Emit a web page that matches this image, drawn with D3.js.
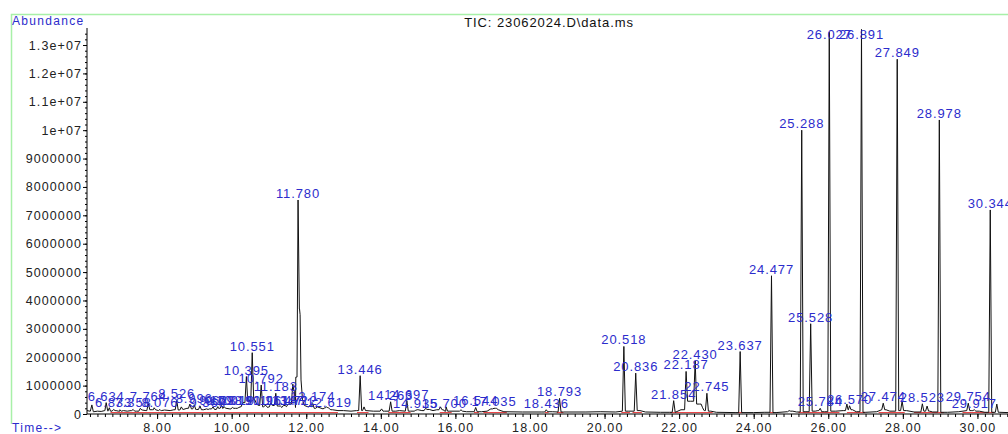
<!DOCTYPE html>
<html>
<head>
<meta charset="utf-8">
<script src="https://cdn.jsdelivr.net/npm/d3@7"></script>
<style>
  body { margin: 0; background: #fff; }
  text { font-family: Arial, "Liberation Sans", sans-serif; }
</style>
</head>
<body>
<div id="chart"></div>
<script>
var svgWidth = 1008;
var svgHeight = 434;

// abundance values in millions, times in minutes

// labelled peaks
var peakTimes = [6.634, 6.833, 7.358, 7.764, 8.076, 8.526, 8.996, 9.369, 9.628, 9.798,
  10.019, 10.191, 10.395, 10.551, 10.792, 10.961, 11.183, 11.347, 11.472, 11.712,
  11.780, 12.174, 12.619, 13.446, 14.263, 14.697, 14.935, 15.700, 16.544, 17.035,
  18.436, 18.793, 20.518, 20.836, 21.854, 22.187, 22.430, 22.745, 23.637, 24.477,
  25.288, 25.528, 25.784, 26.027, 26.570, 26.891, 27.474, 27.849, 28.523, 28.978,
  29.754, 29.917, 30.344];
var peakHeights = [0.40, 0.16, 0.16, 0.37, 0.16, 0.48, 0.33, 0.16, 0.26, 0.26,
  0.23, 0.23, 1.32, 2.16, 1.02, 0.23, 0.73, 0.23, 0.26, 0.23,
  7.54, 0.37, 0.19, 1.35, 0.43, 0.47, 0.13, 0.13, 0.23, 0.20,
  0.15, 0.55, 2.38, 1.44, 0.47, 1.50, 1.87, 0.73, 2.20, 4.87,
  10.0, 3.18, 0.20, 13.45, 0.29, 13.55, 0.38, 12.5, 0.36, 10.36,
  0.38, 0.15, 7.19];
var peakLabels = ["6.634", "6.833", "7.358", "7.764", "8.076", "8.526", "8.996", "9.369", "9.628", "9.798",
  "10.019", "10.191", "10.395", "10.551", "10.792", "10.961", "11.183", "11.347", "11.472", "11.712",
  "11.780", "12.174", "12.619", "13.446", "14.263", "14.697", "14.935", "15.700", "16.544", "17.035",
  "18.436", "18.793", "20.518", "20.836", "21.854", "22.187", "22.430", "22.745", "23.637", "24.477",
  "25.288", "25.528", "25.784", "26.027", "26.570", "26.891", "27.474", "27.849", "28.523", "28.978",
  "29.754", "29.917", "30.344"];

// small peaks without a label
var minorTimes = [6.25, 6.72, 7.00, 7.55, 7.92, 8.65, 8.88, 9.15, 9.50, 9.73,
  10.47, 11.05, 11.64, 12.10, 12.55, 13.55, 14.02, 15.20, 15.60, 15.75,
  16.15, 22.63, 24.95, 26.50, 27.98, 28.65, 30.52];
var minorHeights = [0.32, 0.22, 0.15, 0.20, 0.22, 0.25, 0.35, 0.28, 0.25, 0.30,
  0.50, 0.40, 1.05, 0.30, 0.25, 0.25, 0.18, 0.20, 0.25, 0.25,
  0.15, 0.22, 0.12, 0.35, 0.45, 0.28, 0.35];

// baseline / broad features of the trace [time, abundance]
var baseline = [[6.12, 0.12], [6.2, 0.10], [6.3, 0.08], [6.4, 0.10], [6.5, 0.09], [6.6, 0.12],
  [6.75, 0.10], [6.9, 0.12], [7.0, 0.10], [7.1, 0.12], [7.2, 0.10], [7.3, 0.12], [7.45, 0.10],
  [7.6, 0.14], [7.7, 0.12], [7.9, 0.15], [8.1, 0.12], [8.2, 0.14], [8.35, 0.12], [8.45, 0.15],
  [8.6, 0.14], [8.7, 0.16], [8.8, 0.20], [8.95, 0.18], [9.05, 0.16], [9.25, 0.15],
  [9.4, 0.18], [9.55, 0.16], [9.65, 0.20], [9.85, 0.20], [9.95, 0.18], [10.1, 0.20], [10.25, 0.25],
  [10.3, 0.40], [10.45, 0.45], [10.5, 0.40], [10.62, 0.50], [10.67, 0.35], [10.72, 0.30],
  [10.85, 0.25], [10.9, 0.30], [11.0, 0.25], [11.1, 0.30], [11.25, 0.28], [11.4, 0.30],
  [11.55, 0.35], [11.68, 0.80], [11.72, 1.30], [11.815, 3.70], [11.835, 3.50], [11.86, 1.20],
  [11.9, 0.50], [11.95, 0.30], [12.05, 0.25], [12.25, 0.20], [12.3, 0.25], [12.45, 0.18],
  [12.5, 0.22], [12.7, 0.15], [12.85, 0.12], [13.0, 0.12], [13.2, 0.10], [13.35, 0.12],
  [13.6, 0.12], [13.8, 0.10], [14.1, 0.10], [14.4, 0.10], [14.5, 0.12], [14.8, 0.10],
  [15.0, 0.15], [15.1, 0.12], [15.3, 0.16], [15.4, 0.12], [15.5, 0.15], [15.85, 0.10],
  [16.1, 0.10], [16.3, 0.08], [16.7, 0.08], [16.85, 0.10], [16.95, 0.18], [17.1, 0.20],
  [17.15, 0.15], [17.3, 0.08], [17.8, 0.07], [18.3, 0.07], [18.6, 0.08], [18.9, 0.07],
  [19.5, 0.07], [19.9, 0.08], [20.3, 0.07], [20.65, 0.10], [20.95, 0.12], [21.1, 0.07],
  [21.5, 0.06], [21.75, 0.06], [22.05, 0.15], [22.3, 0.45], [22.55, 0.35], [22.68, 0.12],
  [22.85, 0.10], [23.0, 0.06], [23.5, 0.05], [24.0, 0.05], [24.3, 0.06], [24.6, 0.05],
  [24.9, 0.08], [25.05, 0.10], [25.15, 0.07], [25.4, 0.08], [25.65, 0.10], [25.72, 0.12],
  [25.9, 0.08], [26.2, 0.10], [26.4, 0.12], [26.65, 0.15], [26.75, 0.08], [27.0, 0.06],
  [27.3, 0.08], [27.55, 0.15], [27.65, 0.10], [28.1, 0.12], [28.3, 0.07], [28.72, 0.10],
  [28.8, 0.07], [29.2, 0.06], [29.5, 0.08], [29.85, 0.12], [30.05, 0.10], [30.2, 0.06],
  [30.6, 0.06], [30.82, 0.05]];

// red integration baselines [start, end]
var baseSegs = [[6.75, 12.85], [13.36, 13.67], [14.2, 14.8], [15.58, 15.9], [16.5, 16.63],
  [16.75, 17.38], [18.4, 18.5], [18.72, 18.9], [20.45, 20.68], [20.75, 21.0], [21.75, 22.9],
  [23.58, 23.7], [24.42, 24.55], [25.2, 26.3], [26.5, 27.0], [27.35, 28.05], [28.3, 29.1],
  [29.6, 30.45]];

var yTicks = [0, 1, 2, 3, 4, 5, 6, 7, 8, 9, 10, 11, 12, 13];
var yTickLabels = ["0", "1000000", "2000000", "3000000", "4000000", "5000000", "6000000",
  "7000000", "8000000", "9000000", "1e+07", "1.1e+07", "1.2e+07", "1.3e+07"];
var xTicks = [8, 10, 12, 14, 16, 18, 20, 22, 24, 26, 28, 30];

var plot = { left: 87, right: 1008, top: 28, bottom: 414 };
var blue = "#2c2ccc";

var svg = d3.select("#chart")
  .append("svg")
  .attr("width", svgWidth)
  .attr("height", svgHeight);

var x = d3.scaleLinear().domain([6.12, 30.82]).range([plot.left, plot.right]);
var y = d3.scaleLinear().domain([0, 13.6]).range([plot.bottom, plot.top]);

// green frame
svg.append("path")
  .attr("d", `M11.5,424 V14.5 H${svgWidth}`)
  .attr("fill", "none")
  .attr("stroke", "#a8f0a8")
  .attr("stroke-width", 1.5);

svg.append("defs").append("clipPath").attr("id", "clip")
  .append("rect")
  .attr("x", plot.left).attr("y", plot.top - 4)
  .attr("width", plot.right - plot.left).attr("height", plot.bottom - plot.top + 4);

// build trace: baseline points plus a narrow spike for every peak
var allPeaks = peakTimes.map((t, i) => [t, peakHeights[i]])
  .concat(minorTimes.map((t, i) => [t, minorHeights[i]]));
var bis = d3.bisector(d => d[0]).left;
function footAt(t) {
  var i = Math.min(Math.max(bis(baseline, t), 1), baseline.length - 1);
  var a = baseline[i - 1], b = baseline[i];
  return (t - a[0] < b[0] - t) ? a[1] : b[1];
}
var hw = 0.04;
var trace = baseline.slice();
allPeaks.forEach(function (p) {
  trace.push([p[0] - hw, footAt(p[0] - hw)]);
  trace.push([p[0], p[1]]);
  trace.push([p[0] + hw, footAt(p[0] + hw)]);
});
trace.sort((a, b) => a[0] - b[0]);

var line = d3.line().x(d => x(d[0])).y(d => y(d[1]));

var g = svg.append("g").attr("clip-path", "url(#clip)");

g.selectAll("line.base")
  .data(baseSegs)
  .enter()
  .append("line")
  .attr("class", "base")
  .attr("x1", d => x(d[0]))
  .attr("x2", d => x(d[1]))
  .attr("y1", y(0.05))
  .attr("y2", y(0.05))
  .attr("stroke", "#e8383a")
  .attr("stroke-width", 1);

g.append("path")
  .datum(trace)
  .attr("d", line)
  .attr("fill", "none")
  .attr("stroke", "#111")
  .attr("stroke-width", 1);

// axes
var yMinor = d3.axisLeft(y).tickValues(d3.range(0, 13.6, 0.2)).tickSize(2).tickFormat("");
svg.append("g").attr("transform", `translate(${plot.left},0)`).call(yMinor)
  .call(a => a.select(".domain").remove());

var yAxis = d3.axisLeft(y).tickValues(yTicks).tickFormat((d, i) => yTickLabels[i]).tickSize(4);
svg.append("g")
  .attr("transform", `translate(${plot.left},0)`)
  .call(yAxis)
  .call(a => a.select(".domain").attr("d", `M0,${plot.top}V${plot.bottom}`))
  .call(a => a.selectAll("text")
    .attr("x", -5)
    .attr("font-size", 12.5)
    .attr("letter-spacing", 1.1)
    .attr("fill", "#222"));

var xMinor = d3.axisBottom(x).tickValues(d3.range(6.2, 30.81, 0.2)).tickSize(3).tickFormat("");
svg.append("g").attr("transform", `translate(0,${plot.bottom})`).call(xMinor)
  .call(a => a.select(".domain").remove());

var xAxis = d3.axisBottom(x).tickValues(xTicks).tickFormat(d3.format(".2f")).tickSize(5);
svg.append("g")
  .attr("transform", `translate(0,${plot.bottom})`)
  .call(xAxis)
  .call(a => a.select(".domain").attr("d", `M${plot.left},0H${plot.right}`))
  .call(a => a.selectAll("text")
    .attr("y", 17.5)
    .attr("dy", 0)
    .attr("font-size", 12.5)
    .attr("letter-spacing", 1.1)
    .attr("fill", "#222"));

// peak labels
svg.selectAll("text.peak")
  .data(peakTimes)
  .enter()
  .append("text")
  .attr("class", "peak")
  .attr("x", d => x(d))
  .attr("y", (d, i) => Math.max(y(peakHeights[i]) - 2, 39))
  .attr("text-anchor", "middle")
  .attr("font-size", 13)
  .attr("letter-spacing", 0.9)
  .attr("fill", blue)
  .text((d, i) => peakLabels[i]);

// titles
svg.append("text")
  .attr("x", 12).attr("y", 25)
  .attr("font-size", 12)
  .attr("letter-spacing", 1.3)
  .attr("fill", blue)
  .text("Abundance");

svg.append("text")
  .attr("x", 12).attr("y", 431.5)
  .attr("font-size", 12)
  .attr("letter-spacing", 1.3)
  .attr("fill", blue)
  .text("Time-->");

svg.append("text")
  .attr("x", 549).attr("y", 27)
  .attr("text-anchor", "middle")
  .attr("font-size", 13)
  .attr("letter-spacing", 0.9)
  .attr("fill", "#111")
  .text("TIC: 23062024.D\\data.ms");
</script>
</body>
</html>
